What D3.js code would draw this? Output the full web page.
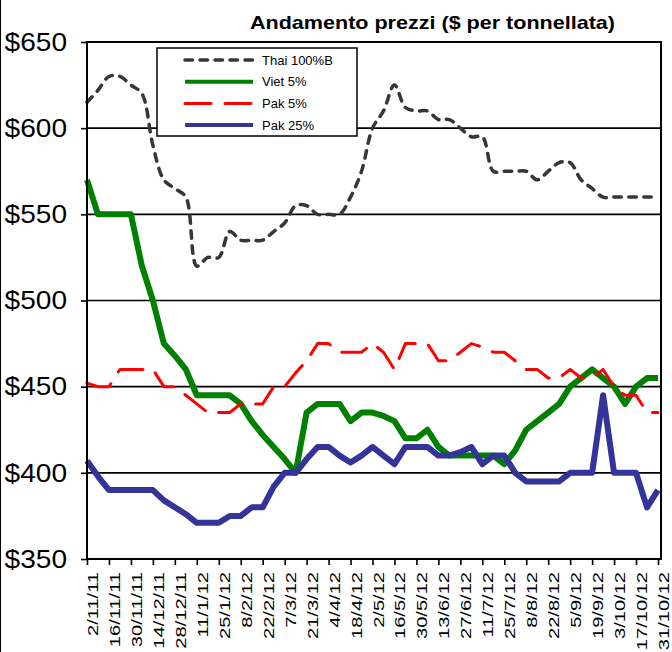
<!DOCTYPE html>
<html>
<head>
<meta charset="utf-8">
<script src="https://cdn.jsdelivr.net/npm/d3@7"></script>
<style>
  body { margin: 0; background: #fff; }
  svg { display: block; font-family: "Liberation Sans", Arial, sans-serif; }
</style>
</head>
<body>
<svg id="chart" width="672" height="652"></svg>
<script>
// weekly quotes, 2/11/11 .. 31/10/12
var weeks = ["2/11/11","9/11/11","16/11/11","23/11/11","30/11/11","7/12/11","14/12/11","21/12/11","28/12/11",
  "4/1/12","11/1/12","18/1/12","25/1/12","1/2/12","8/2/12","15/2/12","22/2/12","29/2/12","7/3/12","14/3/12",
  "21/3/12","28/3/12","4/4/12","11/4/12","18/4/12","25/4/12","2/5/12","9/5/12","16/5/12","23/5/12","30/5/12",
  "6/6/12","13/6/12","20/6/12","27/6/12","4/7/12","11/7/12","18/7/12","25/7/12","1/8/12","8/8/12","15/8/12",
  "22/8/12","29/8/12","5/9/12","12/9/12","19/9/12","26/9/12","3/10/12","10/10/12","17/10/12","24/10/12","31/10/12"];

var thai = [615,622,630,630,625,620,590,570,565,560, 520,525,525,540,535,535,535,540,545,555,
            555,550,550,550,560,575,600,610,625,612, 610,610,605,605,600,595,595,575,575,575,
            575,570,575,580,580,570,565,560,560,560, 560,560,560];
var viet = [570,550,550,550,550,520,500,475,468,460, 445,445,445,445,440,430,422,415,408,400,
            435,440,440,440,430,435,435,433,430,420, 420,425,415,410,410,410,410,410,405,413,
            425,430,435,440,450,455,460,455,450,440, 450,455,455];
var pak5 = [452,450,450,460,460,460,460,450,450,445, 440,435,435,435,440,440,440,450,450,458,
            465,475,475,470,470,470,475,470,460,475, 475,475,465,465,470,475,473,470,470,465,
            460,460,455,455,460,455,455,460,450,445, 445,435,435];
var pak25 = [407,398,390,390,390,390,390,384,380,376, 371,371,371,375,375,380,380,392,400,400,
             408,415,415,410,406,410,415,410,405,415, 415,415,410,410,412,415,405,410,410,400,
             395,395,395,395,400,400,400,445,400,400, 400,380,390];

var yTicks = [350, 400, 450, 500, 550, 600, 650];
var gridValues = [400, 450, 500, 550, 600];
var xTicks = weeks.filter(function(d, i) { return i % 2 === 0; });

var series = [
  {name: "Thai 100%B", values: thai,  color: "#363636", width: 3.5, dash: "7.5,7.5", smooth: true},
  {name: "Viet 5%",    values: viet,  color: "#008000", width: 6,   dash: null,      smooth: false},
  {name: "Pak 5%",     values: pak5,  color: "#ff0000", width: 3,   dash: "26,14",   smooth: false},
  {name: "Pak 25%",    values: pak25, color: "#333399", width: 6,   dash: null,      smooth: false}
];

var svg = d3.select("#chart"),
    margin = {top: 42, right: 11, bottom: 93, left: 87},
    width = +svg.attr("width") - margin.left - margin.right,
    height = +svg.attr("height") - margin.top - margin.bottom;

// thin border on the left edge of the picture
svg.append("line")
    .attr("x1", 0.5).attr("x2", 0.5).attr("y1", 0).attr("y2", 652)
    .attr("stroke", "#000").attr("stroke-width", 1);

svg.append("text")
    .attr("x", 250)
    .attr("y", 29)
    .attr("font-size", "19px")
    .attr("font-weight", "bold")
    .attr("textLength", 365)
    .attr("lengthAdjust", "spacingAndGlyphs")
    .text("Andamento prezzi ($ per tonnellata)");

var x = d3.scalePoint().domain(weeks).range([0, width - 3]),
    y = d3.scaleLinear().domain([350, 650]).range([height, 0]);

var g = svg.append("g")
    .attr("transform", "translate(" + margin.left + "," + margin.top + ")");

g.selectAll(".grid")
  .data(gridValues)
  .enter().append("line")
    .attr("class", "grid")
    .attr("x1", 0).attr("x2", width)
    .attr("y1", function(d) { return y(d); })
    .attr("y2", function(d) { return y(d); })
    .attr("stroke", "#000")
    .attr("stroke-width", 1.6);

// y axis
var yAxis = g.append("g")
    .call(d3.axisLeft(y).tickValues(yTicks).tickSize(6).tickPadding(0)
      .tickFormat(function(d) { return "$" + d; }));
yAxis.select(".domain").remove();
yAxis.selectAll("line").attr("stroke", "#000").attr("stroke-width", 1.6);
yAxis.selectAll("text")
    .attr("x", 0)
    .attr("fill", "#000")
    .attr("font-size", "26px")
    .attr("font-family", "Liberation Sans, Arial, sans-serif")
    .attr("transform", "translate(-20,0) scale(1.08,1)");

// x axis
var xAxis = g.append("g")
    .attr("transform", "translate(0," + height + ")")
    .call(d3.axisBottom(x).tickValues(xTicks).tickSize(6));
xAxis.select(".domain").remove();
xAxis.selectAll("line").attr("stroke", "#000").attr("stroke-width", 1.6);
xAxis.selectAll("text")
    .attr("x", 0).attr("y", 0).attr("dy", null)
    .attr("text-anchor", "end")
    .attr("fill", "#000")
    .attr("font-size", "15px")
    .attr("font-family", "Liberation Sans, Arial, sans-serif")
    .attr("transform", "translate(10.5,13) rotate(-90) scale(1.34,1)");

// series
series.forEach(function(s) {
  var line = d3.line()
      .x(function(d, i) { return x(weeks[i]); })
      .y(function(d) { return y(d); })
      .curve(s.smooth ? d3.curveCatmullRom : d3.curveLinear);

  g.append("path")
      .datum(s.values)
      .attr("fill", "none")
      .attr("stroke", s.color)
      .attr("stroke-width", s.width)
      .attr("stroke-linejoin", "round")
      .attr("stroke-linecap", s.dash ? "round" : "butt")
      .attr("stroke-dasharray", s.dash)
      .attr("d", line);
});

// plot frame
g.append("rect")
    .attr("x", 0).attr("y", 0)
    .attr("width", width).attr("height", height)
    .attr("fill", "none")
    .attr("stroke", "#000")
    .attr("stroke-width", 2);

// legend
var legend = svg.append("g").attr("transform", "translate(157,48)");
legend.append("rect")
    .attr("width", 200).attr("height", 88)
    .attr("fill", "#fff")
    .attr("stroke", "#000")
    .attr("stroke-width", 1.5);

var item = legend.selectAll(".item")
    .data(series)
  .enter().append("g")
    .attr("class", "item")
    .attr("transform", function(d, i) { return "translate(0," + (12 + i * 21.7) + ")"; });

item.append("line")
    .attr("x1", 28).attr("x2", 96)
    .attr("stroke", function(d) { return d.color; })
    .attr("stroke-width", function(d) { return d.width > 4 ? 4 : d.width; })
    .attr("stroke-linecap", function(d) { return d.dash ? "round" : "butt"; })
    .attr("stroke-dasharray", function(d) { return d.dash; });

item.append("text")
    .attr("x", 105)
    .attr("dy", "0.35em")
    .attr("font-size", "13px")
    .text(function(d) { return d.name; });
</script>
</body>
</html>
